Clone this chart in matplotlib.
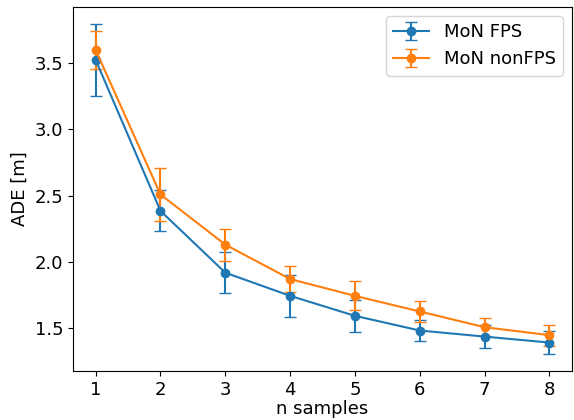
import numpy as np
from matplotlib import pyplot as plt

n_samples = [1, 2, 3, 4, 5, 6, 7, 8]

fps_mean = [3.525, 2.384, 1.917, 1.742, 1.591, 1.480, 1.434, 1.389]
fps_err = [0.275, 0.155, 0.157, 0.157, 0.120, 0.083, 0.085, 0.090]

nonfps_mean = [3.600, 2.508, 2.129, 1.869, 1.742, 1.624, 1.505, 1.445]
nonfps_err = [0.140, 0.200, 0.120, 0.100, 0.110, 0.080, 0.070, 0.080]


def draw(path):
    plt.rcParams['font.size'] = 13
    fig = plt.figure(figsize=(5.74, 4.2), dpi=100)
    ax = fig.add_axes([73 / 574, 49 / 420, 499 / 574, 364 / 420])

    ax.errorbar(n_samples, fps_mean, yerr=fps_err, marker='o', capsize=4,
                label='MoN FPS')
    ax.errorbar(n_samples, nonfps_mean, yerr=nonfps_err, marker='o', capsize=4,
                label='MoN nonFPS')

    ax.set_xlabel('n samples', labelpad=1)
    ax.set_ylabel('ADE [m]')
    ax.set_xticks(n_samples)
    ax.set_yticks([1.5, 2.0, 2.5, 3.0, 3.5])
    ax.legend(loc='upper right')

    fig.savefig(path)
    plt.close(fig)


def main():
    draw('out.png')


if __name__ == '__main__':
    main()
